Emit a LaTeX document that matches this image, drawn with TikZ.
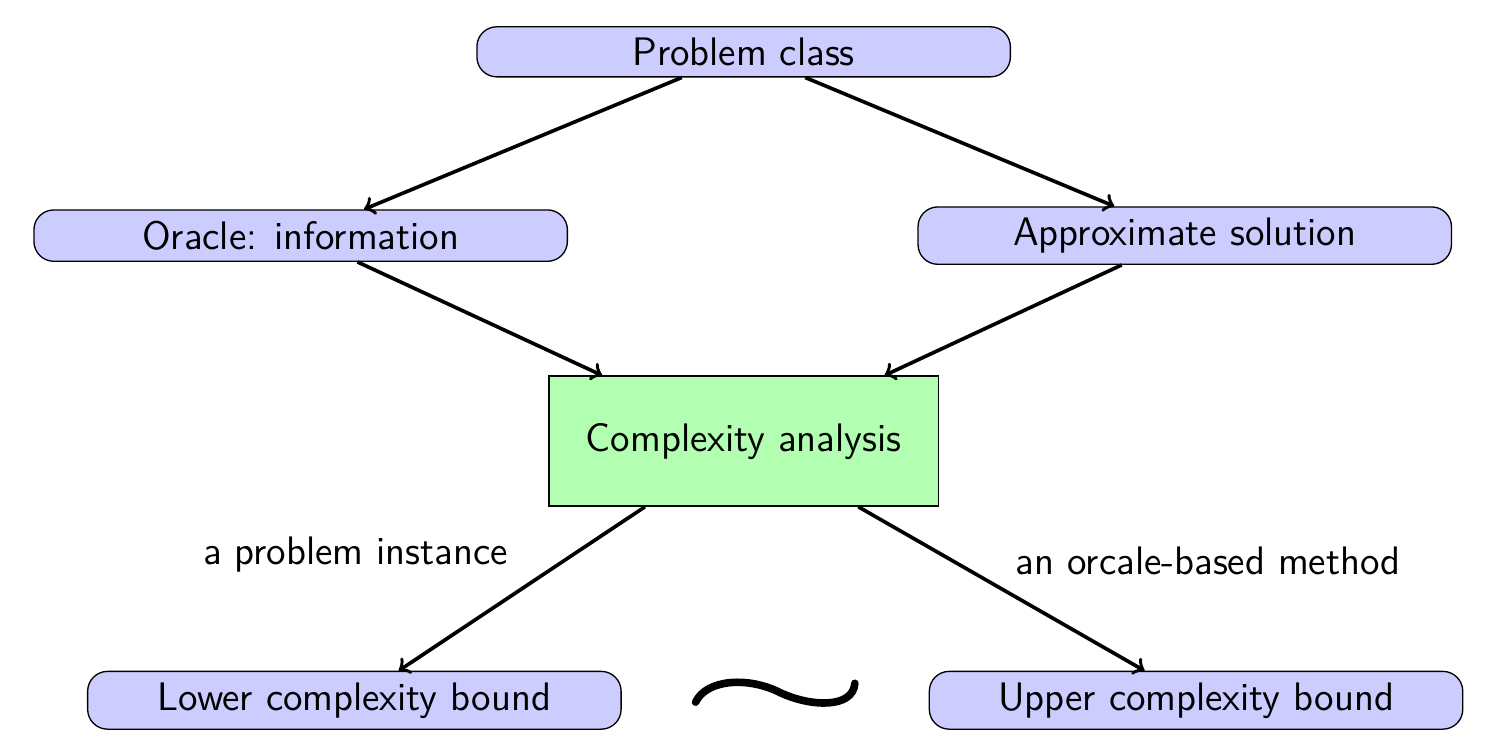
\documentclass[tikz,border=0pt]{standalone}
\usetikzlibrary{positioning}
\begin{document}
\begin{tikzpicture}

  % Define styles
  \tikzstyle{blue_box} = [rectangle, rounded corners=6pt, draw, fill=blue!20, minimum width=5.66cm, font=\sffamily\large]
  \tikzstyle{green_box} = [rectangle, draw, fill=green!30, minimum width=4.13cm, minimum height=1.38cm, font=\sffamily\large]
  \tikzstyle{arrow_line} = [draw, line width=1.1pt, ->]
  \tikzstyle{edge_text} = [font=\sffamily\large]

  \useasboundingbox (0,0) rectangle (16,8);

  % Boxes
  \node[blue_box] (problem) at (7.89, 7.45) {Problem class};
  \node[blue_box] (oracle) at (3.19, 5.50) {Oracle: information};
  \node[blue_box] (approx) at (12.57, 5.50) {Approximate solution};
  \node[green_box] (analysis) at (7.89, 3.32) {Complexity analysis};
  \node[blue_box] (lower) at (3.76, 0.57) {Lower complexity bound};
  \node[blue_box] (upper) at (12.69, 0.57) {Upper complexity bound};

  % Connections
  \draw[arrow_line] (problem) -- (oracle);
  \draw[arrow_line] (problem) -- (approx);
  \draw[arrow_line] (oracle) -- (analysis);
  \draw[arrow_line] (approx) -- (analysis);
  \draw[arrow_line] (analysis) -- (lower);
  \draw[arrow_line] (analysis) -- (upper);

  % Labels
  \node[edge_text] (instance) at (3.77, 2.12) {a problem instance};
  \node[edge_text] (method) at (12.82, 2.05) {an orcale-based method};

  % Tilde between the bounds
  \draw[line width=2.3pt, line cap=round] (7.38, 0.55) .. controls (7.5, 0.8) and (7.95, 0.82) .. (8.28, 0.65) .. controls (8.6, 0.5) and (9.05, 0.48) .. (9.07, 0.75);

\end{tikzpicture}
\end{document}
